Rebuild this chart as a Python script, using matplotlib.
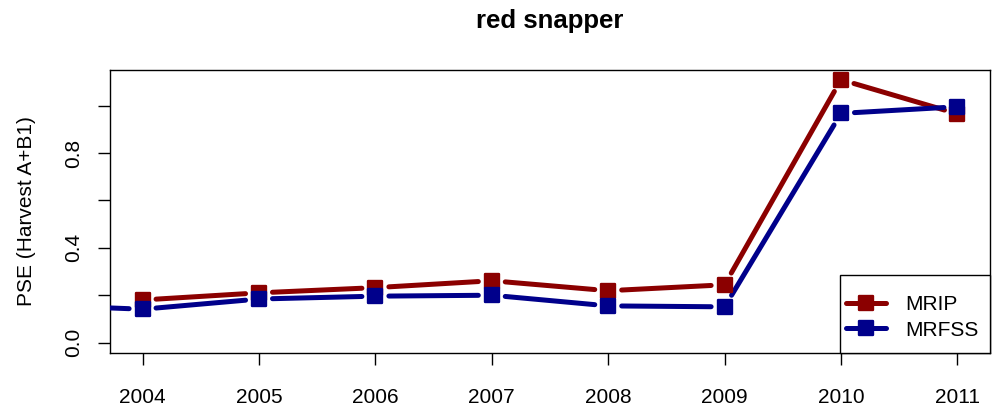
import numpy as np
import matplotlib
matplotlib.use("Agg")
import matplotlib.pyplot as plt
from matplotlib.markers import MarkerStyle
from matplotlib.patches import Rectangle
from matplotlib.lines import Line2D

plt.rcParams['font.family'] = ['Liberation Sans', 'DejaVu Sans']

# Proportional standard error of red snapper harvest (A+B1)
years_mrip = [2004, 2005, 2006, 2007, 2008, 2009, 2010, 2011]
pse_mrip = [0.18, 0.21, 0.232, 0.261, 0.219, 0.244, 1.109, 0.965]

years_mrfss = [2003, 2004, 2005, 2006, 2007, 2008, 2009, 2010, 2011]
pse_mrfss = [0.16, 0.141, 0.184, 0.196, 0.200, 0.155, 0.151, 0.967, 0.995]

series_names = ["MRIP", "MRFSS"]
series_colors = ["#8B0000", "#00008B"]

x_ticks = [2004, 2005, 2006, 2007, 2008, 2009, 2010, 2011]
y_ticks = [0.0, 0.2, 0.4, 0.6, 0.8, 1.0]
y_ticklabels = ["0.0", "", "0.4", "", "0.8", ""]

W, H = 1000, 409
fig = plt.figure(figsize=(W / 100, H / 100), dpi=100)


def fx(px):
    return px / W


def fy(py):
    return 1 - py / H


ax = fig.add_axes([fx(110), fy(353.3), fx(990) - fx(110), fy(70) - fy(353.3)])
ax.set_xlim(2004 - 0.28, 2011 + 0.28)
ax.set_ylim(-0.045, 1.15)

for s in ax.spines.values():
    s.set_linewidth(1.0)
    s.set_color("black")

ax.set_xticks(x_ticks)
ax.set_xticklabels([str(y) for y in x_ticks])
ax.set_yticks(y_ticks)
ax.set_yticklabels(y_ticklabels, rotation=90, va="center")
ax.tick_params(axis="both", direction="out", length=8.7, width=1.0,
               labelsize=15, colors="black")
ax.tick_params(axis="x", pad=16)
ax.tick_params(axis="y", pad=10.8)

LW = 3.6
GAP = 13.5  # pixels between a point centre and the end of its connecting line
marker = MarkerStyle("s", joinstyle="round")


def draw_series(xs, ys, color):
    pts = ax.transData.transform(np.column_stack([xs, ys]))
    inv = ax.transData.inverted()
    for p0, p1 in zip(pts[:-1], pts[1:]):
        d = p1 - p0
        L = np.hypot(*d)
        if L <= 2 * GAP:
            continue
        u = d / L
        a = inv.transform(p0 + u * GAP)
        b = inv.transform(p1 - u * GAP)
        ax.plot([a[0], b[0]], [a[1], b[1]], color=color, lw=LW,
                solid_capstyle="round", zorder=3)
    ax.plot(xs, ys, linestyle="none", marker=marker, markersize=9.6,
            markerfacecolor=color, markeredgecolor=color, markeredgewidth=1.7,
            zorder=4)


draw_series(years_mrip, pse_mrip, series_colors[0])
draw_series(years_mrfss, pse_mrfss, series_colors[1])

fig.text(fx(26.5), fy(211.5), "PSE (Harvest A+B1)", rotation=90,
         ha="center", va="center", fontsize=15)
fig.text(fx(550), fy(28), "red snapper", ha="center", va="baseline",
         fontsize=18.5, fontweight="bold")

# legend box in the lower-right corner
fig.patches.append(Rectangle((fx(840), fy(352.7)), fx(990) - fx(840),
                             fy(275) - fy(352.7), transform=fig.transFigure,
                             facecolor="white", edgecolor="black", lw=1.0,
                             zorder=5))
for name, color, ry in zip(series_names, series_colors, [303, 328]):
    fig.lines.append(Line2D([fx(846), fx(886)], [fy(ry), fy(ry)],
                            transform=fig.transFigure, color=color, lw=LW,
                            solid_capstyle="round", zorder=6))
    fig.lines.append(Line2D([fx(866)], [fy(ry)], transform=fig.transFigure,
                            linestyle="none", marker=marker, markersize=9.6,
                            markerfacecolor=color, markeredgecolor=color,
                            markeredgewidth=1.7, zorder=7))
    fig.text(fx(905), fy(ry), name, ha="left", va="center_baseline",
             fontsize=15, zorder=8)

fig.savefig("out.png", dpi=100)
